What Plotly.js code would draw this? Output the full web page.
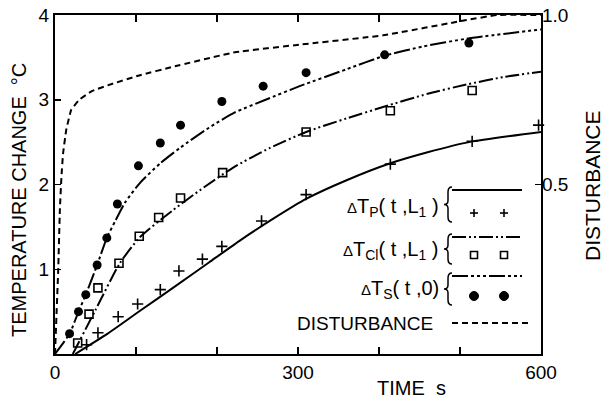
<!DOCTYPE html>
<html><head><meta charset="utf-8">
<script src="https://cdn.plot.ly/plotly-3.0.1.min.js"></script>
<style>html,body{margin:0;padding:0;background:#fff}</style>
</head><body><div id="chart" style="width:614px;height:398px"></div>
<script>
// ---- data ----
const xTickVals = [0,300,600];
const xTickText = ['0','300','600'];
const yTickVals = [1,2,3,4];
const yTickText = ['1','2','3','4'];
const y2TickVals = [0.5,1.0];
const y2TickText = ['0.5','1.0'];

// disturbance (right axis, 0..1)
const tDist = [0,2,4,6,8,10,14,20,30,45,65,105,146,222,302,405,508,546,600];
const disturbance = [0,0.125,0.25,0.425,0.525,0.5925,0.6625,0.72,0.75,0.775,0.7925,0.8225,0.8475,0.89,0.9125,0.94,0.985,1.0,1.0];

// dTs(t,0) model curve and measurements
const tSLine = [0,18,29,38,52,64,75,86,105,130,154,190,222,260,302,360,407,455,508,600];
const ySLine = [0,0.24,0.50,0.70,1.05,1.37,1.58,1.78,2.02,2.25,2.43,2.67,2.85,3.00,3.16,3.36,3.52,3.63,3.72,3.83];
const tSPts = [18,29,38,52,64,77,103,130,155,206,257,310,407,511];
const ySPts = [0.24,0.50,0.70,1.05,1.37,1.77,2.22,2.49,2.70,2.98,3.16,3.32,3.53,3.67];

// dTc1(t,L1)
const tCLine = [22,50,80,105,146,180,220,265,310,360,407,460,508,555,600];
const yCLine = [0,0.52,1.07,1.38,1.70,1.94,2.20,2.43,2.62,2.78,2.92,3.07,3.18,3.27,3.33];
const tCPts = [28,42,53,79,104,128,155,207,310,414,515];
const yCPts = [0.13,0.47,0.78,1.07,1.39,1.61,1.84,2.14,2.62,2.87,3.11];

// dTp(t,L1)
const tPLine = [25,65,105,150,190,230,270,310,360,414,460,511,600];
const yPLine = [0,0.24,0.51,0.81,1.08,1.35,1.60,1.83,2.05,2.25,2.38,2.50,2.62];
const tPPts = [39,53,78,102,130,153,182,206,255,310,414,515,597];
const yPPts = [0.11,0.25,0.44,0.59,0.76,0.98,1.12,1.27,1.57,1.88,2.24,2.51,2.70];

const legendLabels = [
  '<span style="font-size:15px">Δ</span>T<sub>P</sub>( t ,L<sub>1</sub> )',
  '<span style="font-size:15px">Δ</span>T<sub>Cl</sub>( t ,L<sub>1</sub> )',
  '<span style="font-size:15px">Δ</span>T<sub>S</sub>( t ,0)',
  'DISTURBANCE'
];

// ---- styling / layout ----
const FONT = 'Liberation Sans, Arial, sans-serif';
const DASH_C = '14px,3px,2px,3px,2px,3px';
const DASH_S = '16px,3px,3px,3px,3px,3px,3px,3px';
const DASH_D = '6px,4px';
const L=55, R=541, T=15, B=354;
const px = v => (v-L)/(R-L);
const py = v => (B-v)/(B-T);

const traces = [
  {x:tDist, y:disturbance, yaxis:'y2', mode:'lines', line:{color:'#000', width:2, dash:DASH_D, shape:'spline', smoothing:0.3}},
  {x:tSLine, y:ySLine, mode:'lines', line:{color:'#000', width:2, dash:DASH_S, shape:'spline', smoothing:0.6}},
  {x:tCLine, y:yCLine, mode:'lines', line:{color:'#000', width:2, dash:DASH_C, shape:'spline', smoothing:0.6}},
  {x:tPLine, y:yPLine, mode:'lines', line:{color:'#000', width:2, shape:'spline', smoothing:0.6}},
  {x:tSPts, y:ySPts, mode:'markers', marker:{symbol:'circle', size:9, color:'#000'}, cliponaxis:false},
  {x:tCPts, y:yCPts, mode:'markers', marker:{symbol:'square-open', size:8, color:'#000', line:{width:1.6,color:'#000'}}, cliponaxis:false},
  {x:tPPts, y:yPPts, mode:'markers', marker:{symbol:'cross-thin-open', size:8, color:'#000', line:{width:1.6,color:'#000'}}, cliponaxis:false}
];

const rows = [
  {lineY:190, markY:213, labY:207, dash:'solid', m:'plus'},
  {lineY:237, markY:255, labY:250, dash:DASH_C, m:'square'},
  {lineY:276, markY:296, labY:289, dash:DASH_S, m:'circle'}
];
const shapes = [];
const annotations = [];
function bracePath(cx, y0, y1) {
  const ym = (y0+y1)/2;
  const P = (x,y) => px(x)+','+py(y);
  return 'M'+P(cx+4,y0)+' Q'+P(cx,y0)+' '+P(cx,y0+5)+' L'+P(cx,ym-4)+' Q'+P(cx,ym)+' '+P(cx-4,ym)+
         ' Q'+P(cx,ym)+' '+P(cx,ym+4)+' L'+P(cx,y1-5)+' Q'+P(cx,y1)+' '+P(cx+4,y1);
}
rows.forEach((r,i)=>{
  shapes.push({type:'line', xref:'paper', yref:'paper', x0:px(452), x1:px(522), y0:py(r.lineY), y1:py(r.lineY), line:{color:'#000', width:2, dash:r.dash}});
  [474,504].forEach(cx=>{
    if (r.m==='plus') {
      shapes.push({type:'line', xref:'paper', yref:'paper', x0:px(cx-4), x1:px(cx+4), y0:py(r.markY), y1:py(r.markY), line:{color:'#000', width:1.6}});
      shapes.push({type:'line', xref:'paper', yref:'paper', x0:px(cx), x1:px(cx), y0:py(r.markY-4), y1:py(r.markY+4), line:{color:'#000', width:1.6}});
    } else if (r.m==='square') {
      shapes.push({type:'rect', xref:'paper', yref:'paper', x0:px(cx-3.5), x1:px(cx+3.5), y0:py(r.markY-3.5), y1:py(r.markY+3.5), line:{color:'#000', width:1.6}});
    } else {
      shapes.push({type:'circle', xref:'paper', yref:'paper', x0:px(cx-4.5), x1:px(cx+4.5), y0:py(r.markY-4.5), y1:py(r.markY+4.5), fillcolor:'#000', line:{color:'#000', width:1}});
    }
  });
  annotations.push({xref:'paper', yref:'paper', x:px(441), y:py(r.labY), xanchor:'right', yanchor:'middle', text:legendLabels[i], showarrow:false, font:{family:FONT, size:20, color:'#000'}});
  shapes.push({type:'path', xref:'paper', yref:'paper', path:bracePath(448, r.lineY-3, r.markY+9), line:{color:'#000', width:1.5}});
});
shapes.push({type:'line', xref:'paper', yref:'paper', x0:px(452), x1:px(528), y0:py(323), y1:py(323), line:{color:'#000', width:2, dash:DASH_D}});
annotations.push({xref:'paper', yref:'paper', x:px(435), y:py(323), xanchor:'right', yanchor:'middle', text:legendLabels[3], showarrow:false, font:{family:FONT, size:19, color:'#000'}});

annotations.push({xref:'paper', yref:'paper', x:px(411), y:py(388), xanchor:'center', yanchor:'middle', text:'TIME  s', showarrow:false, font:{family:FONT, size:20, color:'#000'}});
annotations.push({xref:'paper', yref:'paper', x:px(19), y:py(200), xanchor:'center', yanchor:'middle', textangle:-90, text:'TEMPERATURE CHANGE  °C', showarrow:false, font:{family:FONT, size:20, color:'#000'}});
annotations.push({xref:'paper', yref:'paper', x:px(592), y:py(186), xanchor:'center', yanchor:'middle', textangle:-90, text:'DISTURBANCE', showarrow:false, font:{family:FONT, size:21, color:'#000'}});

const layout = {
  width:614, height:398,
  margin:{l:L, r:614-R, t:T, b:398-B, pad:0},
  paper_bgcolor:'#fff', plot_bgcolor:'#fff',
  showlegend:false,
  font:{family:FONT, size:19, color:'#000'},
  xaxis:{range:[0,600], tickvals:xTickVals, ticktext:xTickText, ticks:'inside', ticklen:7, tickwidth:1.5, tickcolor:'#000',
         minor:{dtick:100, tick0:0, ticks:'inside', ticklen:7, tickwidth:1.5, tickcolor:'#000', showgrid:false},
         showline:true, linewidth:2, linecolor:'#000', mirror:'ticks', showgrid:false, zeroline:false,
         tickfont:{family:FONT, size:19, color:'#000'}},
  yaxis:{range:[0,4], tickvals:yTickVals, ticktext:yTickText, ticks:'inside', ticklen:6, tickwidth:1.5, tickcolor:'#000',
         showline:true, linewidth:2, linecolor:'#000', mirror:true, showgrid:false, zeroline:false,
         tickfont:{family:FONT, size:19, color:'#000'}},
  yaxis2:{range:[0,1], overlaying:'y', side:'right', tickvals:y2TickVals, ticktext:y2TickText, ticks:'inside', ticklen:6, tickwidth:1.5, tickcolor:'#000',
         showline:false, showgrid:false, zeroline:false, tickfont:{family:FONT, size:19, color:'#000'}},
  shapes:shapes, annotations:annotations
};
Plotly.newPlot('chart', traces, layout, {displayModeBar:false, staticPlot:true});
</script></body></html>
